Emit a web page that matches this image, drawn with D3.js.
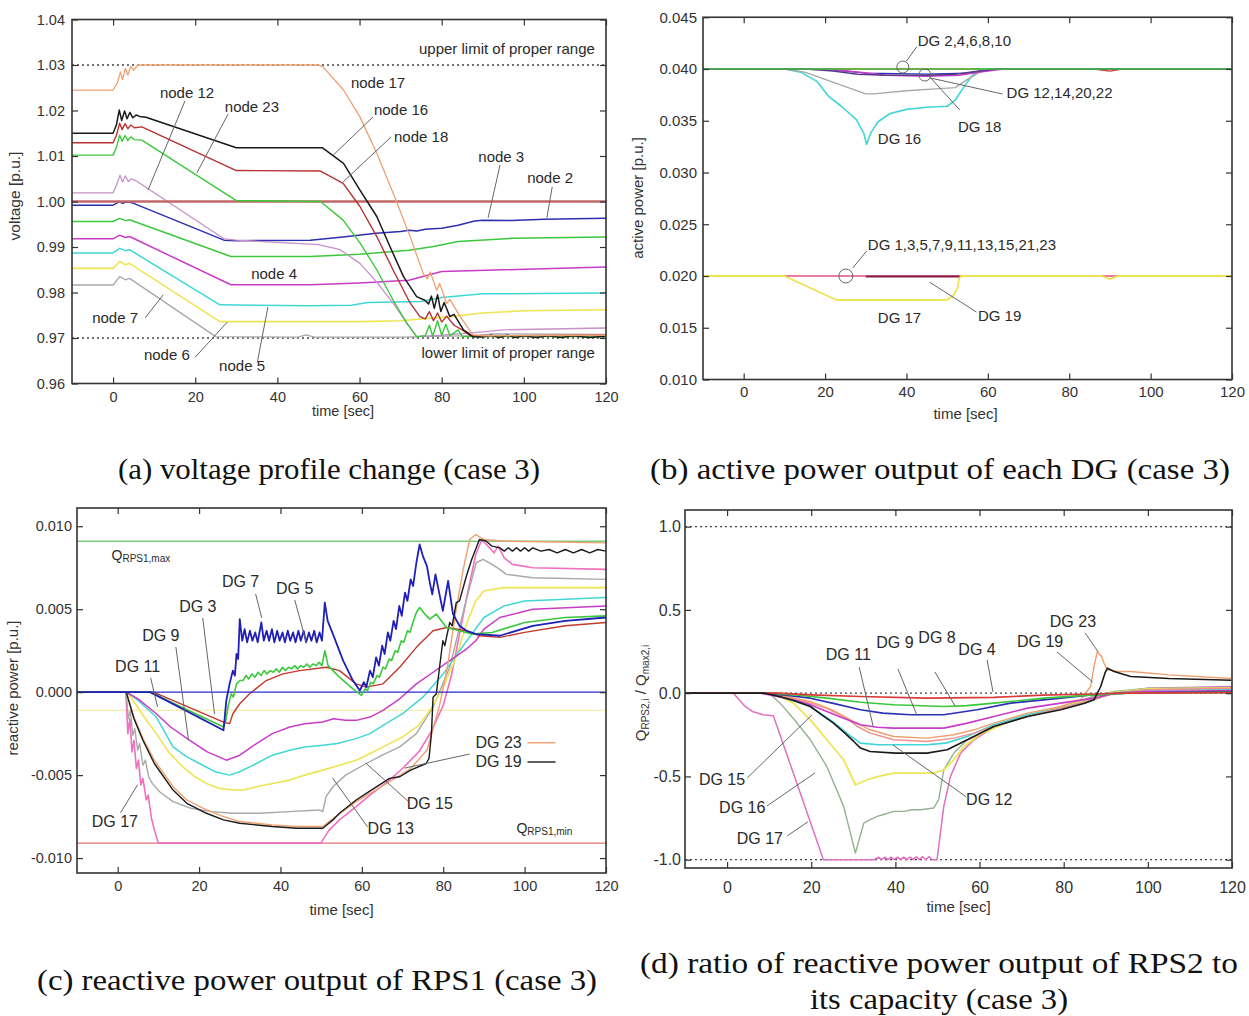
<!DOCTYPE html>
<html><head><meta charset="utf-8">
<script src="https://cdn.jsdelivr.net/npm/d3@7"></script>
<style>
body{margin:0;background:#fff;}
svg{display:block;}
</style></head><body>
<svg id="chart" width="1249" height="1016" font-family="Liberation Sans, Arial, sans-serif"></svg>
<script>
// ================= DATA =================
const timeTicks = [0, 20, 40, 60, 80, 100, 120];
const voltTicks = [0.96, 0.97, 0.98, 0.99, 1.00, 1.01, 1.02, 1.03, 1.04];
const activeTicks = [0.010, 0.015, 0.020, 0.025, 0.030, 0.035, 0.040, 0.045];
const reactTicks = [-0.010, -0.005, 0.000, 0.005, 0.010];
const ratioTicks = [-1.0, -0.5, 0.0, 0.5, 1.0];

// (a) voltage [p.u.] vs time [sec]
const voltLimits = [1.03, 0.97];
const node1 = [[-10,1.0],[120,1.0]];
const node17 = [[-10,1.0245],[0,1.0245],[1,1.026],[1.8,1.0285],[2.3,1.0268],[3,1.0293],[3.6,1.0278],[4.3,1.0297],[5,1.0288],[6,1.03],[50,1.03],[51.1,1.0296],[56.1,1.0245],[60.1,1.0186],[64.2,1.0106],[68.2,1.0018],[72.3,0.9923],[75.5,0.9842],[76.5,0.983],[77.2,0.9845],[78.8,0.9805],[79.5,0.982],[81.2,0.9776],[82,0.9785],[84.5,0.9747],[87.6,0.9707],[90,0.9705],[120,0.9706]];
const node16 = [[-10,1.015],[0,1.015],[0.8,1.0168],[1.5,1.0201],[2.1,1.0178],[2.8,1.0199],[3.4,1.0182],[4.1,1.0196],[4.8,1.0184],[5.6,1.019],[6.5,1.0187],[8,1.0185],[30,1.0118],[51,1.0118],[56.1,1.0084],[60.1,1.0025],[64.2,0.9967],[67.4,0.9901],[70.7,0.9835],[73.9,0.9791],[75.9,0.9783],[76.8,0.9775],[77.5,0.9792],[78.2,0.9765],[79,0.9795],[79.8,0.9758],[80.6,0.9778],[82,0.9747],[83,0.9752],[85.3,0.9718],[87.6,0.9703],[90,0.9702],[92,0.9706],[94,0.9701],[96,0.9706],[98,0.9701],[100,0.9705],[103,0.9701],[106,0.9705],[109,0.9701],[112,0.9705],[116,0.9701],[120,0.9704]];
const node18 = [[-10,1.0129],[0,1.0129],[0.8,1.0145],[1.6,1.0172],[2.2,1.0158],[2.9,1.0171],[3.6,1.016],[4.3,1.0168],[5.2,1.0162],[7,1.0164],[30,1.0068],[50.5,1.0067],[56,1.004],[60.1,0.9989],[64.2,0.9923],[68.2,0.9849],[72.3,0.9777],[74.7,0.9747],[76,0.9742],[77,0.9758],[78,0.9738],[79,0.9755],[80,0.9735],[81.2,0.9748],[83,0.9728],[85,0.9718],[87,0.9705],[120,0.9706]];
const node23 = [[-10,1.0102],[0,1.0102],[0.8,1.0118],[1.6,1.0146],[2.2,1.0132],[2.9,1.0145],[3.6,1.0134],[4.3,1.0142],[5.2,1.0136],[7,1.0135],[30,1.0002],[50.5,1.0],[56,0.9959],[60.1,0.9909],[64.2,0.985],[68.2,0.9783],[71.5,0.9732],[73.9,0.9703],[76,0.9705],[77,0.9728],[77.8,0.9704],[79,0.9738],[80,0.9706],[81,0.973],[82,0.9705],[84,0.9718],[85,0.9703],[120,0.9703]];
const node12 = [[-10,1.0019],[0,1.0019],[0.8,1.0035],[1.7,1.0058],[2.3,1.0043],[3,1.0056],[3.7,1.0044],[4.5,1.005],[5.5,1.0046],[27,0.9918],[30,0.9915],[50,0.9905],[55.3,0.9894],[60.1,0.9864],[64,0.9825],[68.2,0.9776],[71,0.974],[73.9,0.9703],[80,0.9706],[88,0.9712],[95,0.9718],[120,0.9722]];
const node3 = [[-10,0.9992],[0,0.9992],[0.8,0.9996],[1.5,1.0],[2.3,0.9996],[3.2,0.9999],[4.7,0.9997],[27,0.9915],[30,0.9914],[48,0.9915],[56,0.9922],[64,0.993],[70,0.9934],[72,0.9937],[74,0.9935],[76,0.9939],[80,0.9941],[84,0.9948],[88,0.9957],[90,0.9959],[97,0.9958],[105,0.9961],[120,0.9963]];
const nodeG2 = [[-10,0.9956],[0,0.9956],[1.6,0.9963],[3,0.9958],[4,0.996],[28.7,0.9879],[48,0.9879],[60,0.9884],[72,0.9893],[78,0.9901],[84,0.9912],[97,0.9919],[120,0.9922]];
const node4 = [[-10,0.9918],[0,0.9918],[1.6,0.9926],[3,0.9921],[4,0.9923],[28.7,0.9817],[48,0.9817],[60,0.9821],[72,0.9827],[80,0.9846],[95,0.985],[120,0.9856]];
const node5 = [[-10,0.9887],[0,0.9887],[1.6,0.9897],[3,0.9892],[4,0.9894],[26,0.9773],[48,0.9771],[58,0.9772],[62,0.9778],[75,0.978],[80,0.9789],[90,0.9797],[120,0.9799]];
const node6 = [[-10,0.9853],[0,0.9853],[1.6,0.9868],[3,0.9861],[4,0.9864],[26,0.9736],[60,0.9736],[70,0.9738],[82,0.9747],[90,0.9755],[100,0.976],[120,0.9762]];
const node7 = [[-10,0.98165],[0,0.98165],[1.6,0.9835],[3,0.9828],[4,0.9831],[25,0.9703],[45,0.9702],[47,0.9707],[49,0.9702],[70,0.9702],[88,0.9705],[92,0.9709],[120,0.9708]];

// (b) active power [p.u.]
const dgEven = [[-10,0.040],[120,0.040]];
const dg12s = [[-10,0.040],[15,0.040],[22,0.0398],[28,0.0395],[35,0.0394],[45,0.0394],[52,0.0395],[56,0.0397],[62,0.040],[120,0.040]];
const dgMagB = [[-10,0.040],[20,0.040],[28,0.0397],[35,0.0394],[45,0.0393],[53,0.0394],[58,0.0397],[64,0.040],[120,0.040]];
const dgBlueB = [[-10,0.040],[20,0.040],[30,0.0396],[45,0.0395],[55,0.0396],[62,0.040],[120,0.040]];
const dgRedB = [[-10,0.040],[86,0.040],[90,0.0398],[93,0.040],[120,0.040]];
const dg18 = [[-10,0.040],[10,0.040],[15,0.0397],[20,0.039],[25,0.0383],[30,0.0376],[32,0.0376],[40,0.0379],[48,0.0381],[52,0.0382],[55,0.039],[58,0.0397],[62,0.040],[120,0.040]];
const dg16 = [[-10,0.040],[10,0.040],[14,0.0397],[18,0.0388],[21,0.0373],[24,0.0364],[27.7,0.0351],[29.5,0.0338],[30.2,0.0327],[31.2,0.0338],[33,0.0349],[36,0.0357],[40,0.0361],[45,0.0363],[50,0.0364],[52,0.037],[54,0.0382],[56,0.0393],[58,0.0399],[60,0.040],[120,0.040]];
const dgOdd = [[-10,0.020],[120,0.020]];
const dg17b = [[-10,0.020],[10,0.020],[22.8,0.01768],[47.5,0.01768],[50,0.0177],[51.5,0.0181],[52.5,0.0188],[53,0.0198],[53.5,0.020],[88,0.020],[90,0.0197],[92,0.020],[120,0.020]];
const dg19b = [[30,0.01995],[53,0.01995]];

// (c) reactive power of RPS1 [p.u.]
const qRps1Max = [[-10,0.0091],[120,0.0091]];
const qRps1Min = [[-10,-0.0091],[120,-0.0091]];
const cFaint = [[-10,-0.0011],[120,-0.0011]];
const cDg1 = [[-10,0],[120,0]];
const cDg7 = [[-10,0],[8,0],[26,-0.0023],[26.7,-0.0005],[27.5,0.0005],[28.3,0.0013],[28.8,0.001],[29.2,0.0023],[29.6,0.002],[30,0.0044],[30.6,0.0031],[31.2,0.0038],[31.8,0.003],[32.5,0.0037],[33.1,0.0031],[33.8,0.0036],[34.4,0.003],[35.3,0.0042],[35.9,0.0031],[36.6,0.0037],[37.2,0.0031],[37.9,0.0038],[38.5,0.003],[39.2,0.0037],[39.8,0.0031],[40.5,0.0036],[41.1,0.003],[41.8,0.0037],[42.4,0.0031],[43.1,0.0036],[43.7,0.003],[44.4,0.0037],[45,0.0031],[45.7,0.0037],[46.3,0.003],[47,0.0036],[47.6,0.0031],[48.3,0.0037],[48.9,0.003],[49.6,0.0036],[50.2,0.0031],[50.9,0.0054],[51.6,0.0043],[52.9,0.0035],[55.4,0.0019],[57.8,0.0007],[59.5,0.0001],[60.5,0.0006],[61.1,0.0003],[62,0.0013],[62.7,0.0009],[63.5,0.0021],[64.2,0.0016],[65,0.0028],[65.6,0.0023],[66.4,0.0036],[67,0.0031],[67.8,0.0043],[68.4,0.0038],[69.2,0.0052],[69.8,0.0046],[70.6,0.006],[71.2,0.0055],[72,0.0068],[72.6,0.0064],[73.4,0.0078],[74.2,0.0089],[75,0.0082],[76,0.0076],[76.7,0.0066],[77.3,0.0059],[78.1,0.0071],[79.9,0.0049],[81.2,0.0067],[82.4,0.0047],[84,0.004],[85.7,0.0037],[88.1,0.0035],[93.9,0.0034],[102,0.004],[110,0.0043],[120,0.0045]];
const cDg5 = [[-10,0],[8,0],[26,-0.0021],[26.5,-0.0018],[27.1,-0.0009],[27.9,-0.0001],[28.4,-0.0003],[29.2,0.0005],[30,0.0007],[30.8,0.0007],[31.5,0.001],[32.2,0.0008],[33,0.0011],[33.7,0.0009],[34.5,0.0012],[35.2,0.001],[36,0.0013],[36.7,0.0011],[37.5,0.0013],[38.2,0.0012],[39,0.0014],[39.7,0.0012],[40.5,0.0015],[41.2,0.0013],[42,0.0015],[42.7,0.0014],[43.5,0.0016],[44.2,0.0014],[45,0.0016],[45.7,0.0015],[46.5,0.0017],[47.2,0.0015],[48,0.0017],[48.8,0.0016],[49.5,0.0018],[50.2,0.0016],[50.9,0.0025],[51.7,0.0016],[54.5,0.0009],[57.8,0.0002],[59.9,-0.0002],[60.8,0.0002],[61.4,0.0001],[62.2,0.0006],[62.8,0.0005],[63.7,0.001],[64.3,0.0009],[65.2,0.0015],[65.8,0.0014],[66.7,0.002],[67.3,0.0019],[68.2,0.0025],[68.8,0.0024],[69.7,0.0031],[70.3,0.003],[71.2,0.0037],[71.8,0.0036],[72.7,0.0043],[73.4,0.0048],[74.2,0.0051],[75.5,0.0047],[76.7,0.0044],[78.3,0.0047],[80.8,0.0039],[84,0.0037],[87,0.0035],[92,0.0036],[100,0.0042],[110,0.0045],[120,0.0046]];
const cDg3 = [[-10,0],[8.8,0],[26,-0.0018],[27.5,-0.0019],[28.3,-0.0013],[30,-0.0007],[32.4,-0.0001],[36.5,0.0007],[40.6,0.0011],[44.7,0.0013],[51.3,0.0015],[54.5,0.0013],[58.6,0.0005],[61.1,0.0003],[65.2,0.0005],[69.3,0.0015],[73.4,0.0027],[77.5,0.0037],[80.8,0.0039],[85.7,0.0037],[89,0.0034],[93.9,0.0033],[100,0.0036],[110,0.004],[120,0.0042]];
const cDg9 = [[-10,0],[2.1,0],[5,-0.0004],[9.5,-0.0013],[13,-0.0021],[17.7,-0.0029],[22,-0.0036],[26.7,-0.0041],[30,-0.0038],[34.1,-0.0031],[38,-0.0025],[42.3,-0.0021],[46,-0.0019],[50.4,-0.0018],[53,-0.0016],[56,-0.0017],[58.6,-0.0017],[62,-0.0015],[65.2,-0.0011],[69.3,-0.0004],[73.4,0.0005],[77.5,0.0012],[81.6,0.0019],[85.7,0.0026],[88,0.0031],[90,0.0038],[93.9,0.0045],[102,0.005],[120,0.0052]];
const cDg11 = [[-10,0],[2.2,0],[5,-0.0005],[9.5,-0.0015],[13.6,-0.0033],[17,-0.0039],[20.1,-0.0043],[24,-0.0048],[27.5,-0.005],[30,-0.0048],[34.1,-0.0043],[38,-0.0038],[42.3,-0.0035],[46,-0.0033],[50.4,-0.0032],[54,-0.0031],[58.6,-0.0028],[62,-0.0025],[65.2,-0.002],[70,-0.0013],[75,-0.0003],[80,0.0011],[84,0.0025],[87,0.0035],[90,0.0045],[95,0.0052],[100,0.0055],[120,0.0057]];
const cDg13 = [[-10,0],[2.2,0],[3.8,-0.0005],[6.5,-0.0015],[9.5,-0.0025],[12.5,-0.0036],[16,-0.0045],[19,-0.0051],[21.8,-0.0055],[25,-0.0058],[28.3,-0.0059],[31,-0.0059],[34.1,-0.0057],[38,-0.0055],[42.3,-0.0053],[46,-0.005],[50.4,-0.0047],[54.5,-0.0044],[58.6,-0.0041],[62,-0.0037],[65.2,-0.0033],[70,-0.0027],[74,-0.002],[77,-0.001],[80,0.0003],[83,0.002],[86,0.0043],[88,0.0055],[90,0.0061],[95,0.0063],[120,0.0063]];
const cDg15 = [[-10,0],[2.1,0],[2.6,-0.0016],[3.1,-0.0011],[3.7,-0.0026],[4.2,-0.0022],[4.9,-0.0035],[5.4,-0.0031],[6.2,-0.0044],[6.8,-0.0041],[7.6,-0.0051],[8.5,-0.0055],[10.3,-0.006],[13.6,-0.0066],[18,-0.007],[23,-0.0072],[28.3,-0.0073],[35,-0.0073],[42,-0.0072],[49.6,-0.0071],[50.4,-0.0072],[51.2,-0.0063],[52.9,-0.0057],[56,-0.005],[61.1,-0.0043],[65,-0.0038],[69.3,-0.0033],[73.4,-0.0025],[77.5,-0.0009],[81.6,0.0015],[85.7,0.0056],[88.1,0.0078],[89.8,0.008],[92,0.0077],[93.9,0.0074],[95.5,0.0071],[102,0.0069],[120,0.0068]];
const cDg17 = [[-10,0],[2,0],[2.5,-0.0025],[3,-0.0016],[3.5,-0.0036],[4,-0.0029],[4.6,-0.0046],[5.1,-0.0041],[5.7,-0.0056],[6.2,-0.0052],[7,-0.0065],[7.5,-0.0062],[8.3,-0.0076],[9,-0.0083],[10,-0.0091],[50,-0.0091],[50.4,-0.0089],[52,-0.0083],[54.5,-0.0077],[58.6,-0.0069],[62,-0.0062],[66.8,-0.0053],[70,-0.0046],[74,-0.0036],[77,-0.0024],[80,-0.0008],[82,0.001],[84,0.0035],[86,0.006],[88,0.0083],[89.5,0.0092],[91,0.0088],[92.5,0.0084],[93.5,0.0088],[95,0.0081],[97,0.0077],[102,0.0075],[120,0.0074]];
const cDg19 = [[-10,0],[2.1,0],[4,-0.0016],[6.2,-0.0029],[9,-0.0043],[13.6,-0.0059],[17,-0.0067],[21.8,-0.0073],[26,-0.0077],[30,-0.0079],[38,-0.0081],[44,-0.0082],[50.4,-0.0082],[52.9,-0.0077],[54.5,-0.0073],[58.6,-0.0065],[61.1,-0.0061],[66.8,-0.0052],[69.3,-0.0051],[72,-0.0047],[75.8,-0.0043],[76.5,-0.004],[77.1,-0.0025],[77.5,-0.0003],[78.3,-0.0001],[79.1,0.0015],[79.9,0.0031],[80.4,0.0028],[80.8,0.0033],[81.6,0.0042],[82.2,0.004],[83.2,0.0054],[84,0.0055],[85.7,0.007],[87,0.008],[88.9,0.0092],[90.6,0.0091],[92,0.0088],[93.9,0.0087],[95,0.0085],[96,0.0087],[97,0.0085],[98,0.0087],[99,0.0085],[100,0.0087],[101,0.0085],[102,0.0087],[104,0.0085],[106,0.0086],[108,0.0084],[110,0.0086],[112,0.0084],[114,0.0086],[116,0.0084],[118,0.0086],[120,0.0085]];
const cDg23 = [[-10,0],[2.1,0],[4,-0.0015],[6.2,-0.0028],[9,-0.0041],[13.6,-0.0057],[17,-0.0065],[21.8,-0.0071],[26,-0.0075],[30,-0.0078],[38,-0.008],[44,-0.0081],[50.4,-0.0081],[53,-0.0076],[58.6,-0.0066],[66.8,-0.0054],[72,-0.0046],[76,-0.0035],[79.1,-0.0008],[81,0.0015],[83.2,0.005],[85,0.0075],[86.5,0.0092],[88,0.0095],[90,0.0092],[95,0.0091],[120,0.009]];

// (d) Q_RPS2,i / Q_max2,i
const ratioLimits = [1.0, 0.0, -1.0];
const dDg4 = [[-10,0],[12,0],[20,-0.01],[31.7,-0.02],[47.5,-0.03],[63.4,-0.025],[75,-0.012],[87,-0.005],[95,0],[120,0.003]];
const dDg8 = [[-10,0],[10,0],[16,-0.01],[23.7,-0.03],[31.7,-0.055],[39.6,-0.07],[51.5,-0.08],[57,-0.075],[63.4,-0.06],[75.3,-0.03],[87,-0.01],[95,0],[120,0.005]];
const dDg9 = [[-10,0],[8,0],[13,-0.01],[19.8,-0.03],[25,-0.06],[31.7,-0.1],[37,-0.12],[43.6,-0.13],[51.5,-0.13],[59.4,-0.1],[67.4,-0.06],[79.3,-0.03],[87,-0.01],[95,0],[120,0.01]];
const dDg11 = [[-10,0],[8,0],[12,-0.02],[15.8,-0.04],[19.8,-0.07],[23.7,-0.11],[27.7,-0.15],[31.7,-0.19],[35.7,-0.205],[39.6,-0.21],[51.5,-0.21],[57.1,-0.18],[63.4,-0.14],[71.4,-0.09],[79.3,-0.06],[87.2,-0.03],[92,0],[100,0.01],[120,0.015]];
const dDg23 = [[-10,0],[9,0],[14,-0.02],[19.8,-0.05],[25,-0.1],[30,-0.17],[34,-0.22],[39.6,-0.26],[47.5,-0.27],[53.9,-0.25],[58.7,-0.22],[63.4,-0.18],[71.4,-0.12],[79.3,-0.08],[84,-0.04],[86.4,0.04],[87.2,0.16],[88,0.25],[89,0.22],[89.6,0.18],[90.4,0.14],[93,0.13],[95.9,0.13],[105,0.11],[119.8,0.088]];
const dDg12 = [[-10,0],[9,0],[14,-0.02],[19.8,-0.06],[23.5,-0.09],[27.7,-0.14],[31,-0.2],[34,-0.24],[39.6,-0.28],[47.5,-0.29],[53.9,-0.27],[58.7,-0.24],[63.4,-0.2],[71.4,-0.14],[79.3,-0.09],[87,-0.04],[92,0],[100,0.02],[120,0.03]];
const dDg13 = [[-10,0],[10,0],[14,-0.03],[19.8,-0.08],[25,-0.17],[29,-0.25],[31.7,-0.3],[36,-0.31],[47.5,-0.31],[52,-0.3],[57,-0.26],[63.4,-0.19],[71.4,-0.13],[79.3,-0.09],[87,-0.04],[92,0],[100,0.02],[120,0.025]];
const dDg19 = [[-10,0],[9,0],[12.6,-0.022],[16,-0.045],[19.8,-0.08],[22.5,-0.13],[25.3,-0.18],[28,-0.24],[30.1,-0.29],[31.7,-0.33],[34,-0.35],[40,-0.36],[47.5,-0.36],[52.3,-0.34],[57.1,-0.28],[63.4,-0.2],[71.4,-0.14],[79.3,-0.1],[85,-0.06],[87.2,-0.04],[88.8,0.04],[89.8,0.12],[90.4,0.15],[92,0.13],[95.9,0.1],[105,0.088],[119.8,0.078]];
const dDg15 = [[-10,0],[11,0],[15.8,-0.06],[19.8,-0.16],[23.7,-0.28],[27.7,-0.4],[30.5,-0.55],[33.3,-0.52],[36,-0.5],[39.6,-0.48],[45,-0.48],[49.1,-0.48],[51.5,-0.46],[53.9,-0.4],[56.3,-0.32],[60,-0.25],[66,-0.18],[73,-0.12],[80,-0.08],[87,-0.03],[92,0.005],[100,0.025],[120,0.03]];
const dDg16 = [[-10,0],[10,0],[12.6,-0.06],[16,-0.16],[19.8,-0.28],[23.7,-0.44],[27.7,-0.68],[30.5,-0.96],[32.5,-0.78],[34,-0.76],[35.7,-0.74],[37,-0.73],[39.6,-0.71],[42,-0.71],[44,-0.7],[46,-0.7],[49.1,-0.69],[50.3,-0.64],[51.5,-0.46],[53.9,-0.36],[57.1,-0.28],[63,-0.21],[70,-0.14],[80,-0.08],[87,-0.02],[92,0.01],[100,0.03],[120,0.035]];
const dDg17 = [[-10,0],[1.5,0],[4.3,-0.08],[6,-0.11],[8.6,-0.13],[11,-0.135],[22.9,-1.0],[35,-1.0],[36,-0.985],[36.7,-1.0],[37.5,-0.985],[38.2,-1.0],[39,-0.985],[39.7,-1.0],[40.5,-0.985],[41.2,-1.0],[42,-0.985],[42.7,-1.0],[43.5,-0.984],[44.2,-1.0],[45,-0.983],[45.7,-1.0],[46.5,-0.982],[47.2,-1.0],[48,-0.981],[48.7,-1.0],[49.9,-1.0],[50.5,-0.88],[51.5,-0.68],[53.1,-0.5],[55.5,-0.36],[58.7,-0.28],[63,-0.21],[70,-0.14],[80,-0.08],[87,-0.03],[92,0],[100,0.03],[120,0.04]];

// ================= DRAWING =================
const svg = d3.select("#chart");
const C = {red:"#d83a3a", dred:"#b83232", green:"#3cc83c", blue:"#2b2fb0", mag:"#c83cc8", cyan:"#40d6d6",
  yellow:"#efe452", black:"#1a1a1a", orange:"#f0a070", gray:"#a8a8a8", pink:"#f070c0", salmon:"#f09090", gg:"#94b294"};
const SANS = "Liberation Sans, Arial, sans-serif";

function panel(cfg){
  const g = svg.append("g");
  const x = d3.scaleLinear().domain([-10,120]).range([cfg.left,cfg.right]);
  const y = d3.scaleLinear().domain(cfg.yDomain).range([cfg.bottom,cfg.top]);
  const id = "clip"+cfg.id;
  svg.append("clipPath").attr("id",id).append("rect")
    .attr("x",cfg.left).attr("y",cfg.top).attr("width",cfg.right-cfg.left).attr("height",cfg.bottom-cfg.top);
  const plot = g.append("g").attr("clip-path",`url(#${id})`);
  const line = d3.line().x(d=>x(d[0])).y(d=>y(d[1]));
  (cfg.refs||[]).forEach(v=>{
    plot.append("line").attr("x1",x(-10)).attr("x2",x(120)).attr("y1",y(v)).attr("y2",y(v))
      .attr("stroke","#444").attr("stroke-width",1.3).attr("stroke-dasharray","2,3");
  });
  cfg.series.forEach(s=>{
    plot.append("path").datum(s.data).attr("d",line).attr("fill","none")
      .attr("stroke",s.color).attr("stroke-width",s.w||1.3).attr("stroke-linejoin","round").attr("opacity",s.o||1);
  });
  const fs = cfg.fs;
  function style(a){ a.attr("font-family",SANS).attr("font-size",fs);
    a.select(".domain").remove(); a.selectAll("line").attr("stroke","#333").attr("stroke-width",1.2);
    a.selectAll("text").attr("fill","#333"); }
  style(g.append("g").attr("transform",`translate(0,${cfg.bottom})`)
    .call(d3.axisBottom(x).tickValues(timeTicks).tickSize(-6).tickPadding(cfg.xPad).tickFormat(d=>String(d))));
  style(g.append("g").attr("transform",`translate(0,${cfg.top})`)
    .call(d3.axisTop(x).tickValues(timeTicks).tickSize(-6).tickFormat("")));
  style(g.append("g").attr("transform",`translate(${cfg.left},0)`)
    .call(d3.axisLeft(y).tickValues(cfg.yTicks).tickSize(-6).tickPadding(cfg.yPad).tickFormat(cfg.yFmt)));
  style(g.append("g").attr("transform",`translate(${cfg.right},0)`)
    .call(d3.axisRight(y).tickValues(cfg.yTicks).tickSize(-6).tickFormat("")));
  g.append("rect").attr("x",cfg.left).attr("y",cfg.top).attr("width",cfg.right-cfg.left).attr("height",cfg.bottom-cfg.top)
    .attr("fill","none").attr("stroke","#333").attr("stroke-width",1.6);
  g.append("text").attr("x",(cfg.left+cfg.right)/2+cfg.xlOff).attr("y",cfg.xlY).attr("text-anchor","middle")
    .attr("font-size",cfg.tfs).attr("fill","#333").text("time [sec]");
  const yl = g.append("text").attr("transform",`translate(${cfg.ylX},${cfg.ylY}) rotate(-90)`)
    .attr("text-anchor","middle").attr("font-size",cfg.ylfs||cfg.tfs).attr("fill","#333");
  cfg.ylab(yl);
  return {
    text(t,v,str,anchor,size){ return g.append("text").attr("x",x(t)).attr("y",y(v)).attr("text-anchor",anchor||"middle")
      .attr("font-size",size||cfg.afs).attr("fill","#2a2a2a").text(str); },
    lead(t1,v1,t2,v2){ g.append("line").attr("x1",x(t1)).attr("y1",y(v1)).attr("x2",x(t2)).attr("y2",y(v2))
      .attr("stroke","#666").attr("stroke-width",1); },
    circ(t,v,r){ g.append("circle").attr("cx",x(t)).attr("cy",y(v)).attr("r",r).attr("fill","none").attr("stroke","#666").attr("stroke-width",1); },
    x, y, g
  };
}

// ---- (a)
const A = panel({id:"a", left:72, right:606, top:19.5, bottom:383.5, yDomain:[0.96,1.04], yTicks:voltTicks,
  yFmt:d=>d.toFixed(2), fs:14.5, xPad:8, yPad:7, tfs:14.5, ylfs:15.5, afs:15, xlOff:4, xlY:416, ylX:20, ylY:196,
  ylab:t=>t.text("voltage [p.u.]"), refs:voltLimits,
  series:[
    {data:node7,color:C.gray},{data:node6,color:C.yellow,w:1.6},{data:node5,color:C.cyan,w:1.5},{data:node4,color:C.mag,w:1.5},
    {data:nodeG2,color:C.green,w:1.5},{data:node3,color:C.blue,w:1.5},{data:node12,color:"#c890c8"},
    {data:node1,color:"#c06868",w:2.6},{data:node23,color:C.green,w:1.4},{data:node18,color:C.dred,w:1.4},
    {data:node16,color:C.black,w:1.5},{data:node17,color:C.orange,w:1.3}
  ]});
A.text(117.3,1.0324,"upper limit of proper range","end");
A.text(117.3,0.9656,"lower limit of proper range","end");
A.text(18.0,1.0228,"node 12"); A.lead(17.5,1.0221,8.5,1.0025);
A.text(33.8,1.0197,"node 23"); A.lead(28.0,1.0192,20.4,1.0063);
A.text(64.5,1.0250,"node 17");
A.text(70.1,1.0190,"node 16"); A.lead(63.3,1.0186,53.6,1.0102);
A.text(75.0,1.0131,"node 18"); A.lead(67.7,1.0142,56.0,1.0043);
A.text(94.5,1.0087,"node 3"); A.lead(94.2,1.0080,91.3,0.9964);
A.text(106.4,1.0041,"node 2"); A.lead(106.9,1.0032,105.6,0.9964);
A.text(39.2,0.9830,"node 4");
A.text(0.5,0.9733,"node 7"); A.lead(7.8,0.9744,12.2,0.9795);
A.text(13.1,0.9652,"node 6"); A.lead(20.0,0.9658,27.8,0.9735);
A.text(31.4,0.9628,"node 5"); A.lead(35.1,0.9646,37.7,0.9768);

// ---- (b)
const B = panel({id:"b", left:703, right:1232, top:17.25, bottom:379.5, yDomain:[0.010,0.045], yTicks:activeTicks,
  yFmt:d=>d.toFixed(3), fs:15, xPad:7, yPad:6, tfs:15, afs:15, xlOff:-2, xlY:419, ylX:643, ylY:198,
  ylab:t=>t.text("active power [p.u.]"),
  series:[
    {data:dgOdd,color:"#e0508a",w:1.4},{data:dg17b,color:C.yellow,w:1.8},{data:dg19b,color:"#8a2040",w:2.2},
    {data:dgRedB,color:C.red},{data:dg16,color:C.cyan,w:1.6},{data:dg18,color:C.gray},
    {data:dgBlueB,color:C.blue},{data:dgMagB,color:C.mag,w:1.5},{data:dg12s,color:"#5a3a8a",w:1.5},{data:dgEven,color:C.green}
  ]});
B.text(42.75,0.04222,"DG 2,4,6,8,10","start"); B.lead(42.5,0.04213,40.0,0.04077); B.circ(39.1,0.04019,6);
B.circ(44.5,0.03942,6); B.lead(45.9,0.03913,63.6,0.03758); B.text(64.6,0.0372,"DG 12,14,20,22","start");
B.text(38.3,0.03275,"DG 16");
B.text(58.0,0.03391,"DG 18"); B.lead(53.1,0.03604,45.7,0.03925);
B.text(30.5,0.02251,"DG 1,3,5,7,9,11,13,15,21,23","start"); B.lead(30.2,0.02241,26.8,0.02077); B.circ(25.1,0.0200,7);
B.text(38.3,0.01546,"DG 17");
B.text(62.9,0.01565,"DG 19"); B.lead(57.2,0.01652,45.7,0.0194);

// ---- (c)
const Cp = panel({id:"c", left:77, right:606, top:508, bottom:873, yDomain:[-0.0109,0.0111], yTicks:reactTicks,
  yFmt:d=>d.toFixed(3), fs:14.5, xPad:8, yPad:5, tfs:15, afs:16, xlOff:0, xlY:915, ylX:18, ylY:688,
  ylab:t=>t.text("reactive power [p.u.]"),
  series:[
    {data:cFaint,color:"#f4eeb0"},{data:qRps1Max,color:"#7ccc7c",w:1.4},{data:qRps1Min,color:"#e07474",w:1.4},
    {data:cDg17,color:C.pink,w:1.6},{data:cDg15,color:C.gray,w:1.4},{data:cDg13,color:C.yellow,w:1.6},
    {data:cDg11,color:C.cyan,w:1.5},{data:cDg9,color:C.mag,w:1.5},{data:cDg23,color:C.orange,w:1.4},
    {data:cDg19,color:C.black,w:1.4},{data:cDg3,color:"#c03a2a",w:1.4},{data:cDg1,color:"#2a2ad0",w:1.4},
    {data:cDg5,color:C.green,w:1.6},{data:cDg7,color:"#2020b8",w:1.8}
  ]});
function qLabel(t,v,sub){
  const tx = Cp.g.append("text").attr("x",Cp.x(t)).attr("y",Cp.y(v)).attr("fill","#2a2a2a");
  tx.append("tspan").attr("font-size",14).text("Q");
  tx.append("tspan").attr("font-size",10).attr("dy",2).text(sub);
}
qLabel(-1.5,0.00797,"RPS1,max");
qLabel(98.0,-0.00848,"RPS1,min");
Cp.text(30.2,0.00634,"DG 7"); Cp.lead(33.9,0.00592,35.4,0.00447);
Cp.text(43.5,0.00592,"DG 5"); Cp.lead(43.5,0.00556,46.4,0.00296);
Cp.text(19.7,0.00483,"DG 3"); Cp.lead(20.9,0.00447,23.8,-0.00131);
Cp.text(10.6,0.00309,"DG 9"); Cp.lead(14.3,0.00272,17.4,-0.00288);
Cp.text(4.9,0.00122,"DG 11"); Cp.lead(8.1,0.00086,9.8,-0.00089);
Cp.text(-0.7,-0.00812,"DG 17"); Cp.lead(0.7,-0.00727,4.9,-0.00558);
Cp.text(76.7,-0.00704,"DG 15"); Cp.lead(71.3,-0.00656,60.9,-0.00426);
Cp.text(67.1,-0.00855,"DG 13"); Cp.lead(61.4,-0.00812,52.8,-0.00517);
Cp.text(99.3,-0.00336,"DG 23","end");
Cp.text(99.3,-0.00451,"DG 19","end");
Cp.g.append("line").attr("x1",Cp.x(100.7)).attr("x2",Cp.x(107.6)).attr("y1",Cp.y(-0.00305)).attr("y2",Cp.y(-0.00305)).attr("stroke",C.orange).attr("stroke-width",1.4);
Cp.g.append("line").attr("x1",Cp.x(100.7)).attr("x2",Cp.x(107.6)).attr("y1",Cp.y(-0.00421)).attr("y2",Cp.y(-0.00421)).attr("stroke",C.black).attr("stroke-width",1.4);
Cp.lead(86.5,-0.00373,70.5,-0.00458);

// ---- (d)
const D = panel({id:"d", left:685, right:1232, top:510, bottom:868, yDomain:[-1.05,1.1], yTicks:ratioTicks,
  yFmt:d=>d.toFixed(1), fs:16, xPad:14, yPad:4, tfs:15, afs:16, xlOff:0, xlY:912, ylX:646, ylY:693,
  ylab:t=>{ t.append("tspan").text("Q"); t.append("tspan").attr("font-size",10).attr("dy",3).text("RPS2,i");
            t.append("tspan").attr("dy",-3).text(" / Q"); t.append("tspan").attr("font-size",10).attr("dy",3).text("max2,i"); },
  refs:ratioLimits,
  series:[
    {data:dDg17,color:"#e070c0",w:1.5},{data:dDg16,color:C.gg,w:1.4},{data:dDg15,color:C.yellow,w:1.8},
    {data:dDg13,color:C.cyan,w:1.6},{data:dDg12,color:C.salmon,w:1.5},{data:dDg23,color:C.orange,w:1.4},
    {data:dDg11,color:C.mag,w:1.6},{data:dDg9,color:C.blue,w:1.6},{data:dDg8,color:C.green,w:1.6},
    {data:dDg4,color:C.red,w:1.6},{data:dDg19,color:C.black,w:1.6}
  ]});
D.text(28.8,0.199,"DG 11"); D.lead(31.4,0.157,34.7,-0.197);
D.text(39.9,0.271,"DG 9"); D.lead(40.6,0.145,45.2,-0.137);
D.text(49.9,0.301,"DG 8"); D.lead(49.4,0.127,54.2,-0.077);
D.text(59.4,0.229,"DG 4"); D.lead(61.8,0.200,63.2,0.007);
D.text(82.2,0.398,"DG 23"); D.lead(85.1,0.362,88.2,0.247);
D.text(74.4,0.278,"DG 19"); D.lead(78.4,0.248,86.9,0.067);
D.text(-1.2,-0.55,"DG 15"); D.lead(4.8,-0.509,20.2,-0.13);
D.text(3.6,-0.719,"DG 16"); D.lead(9.5,-0.677,20.9,-0.479);
D.text(7.8,-0.905,"DG 17"); D.lead(14.3,-0.857,19.2,-0.773);
D.text(62.3,-0.67,"DG 12"); D.lead(56.8,-0.622,39.4,-0.311);

// ---- captions
const cap = [
  {x:329,y:479,w:422,t:"(a) voltage profile change (case 3)"},
  {x:940,y:479,w:580,t:"(b) active power output of each DG (case 3)"},
  {x:317,y:990,w:560,t:"(c) reactive power output of RPS1 (case 3)"},
  {x:939,y:973,w:598,t:"(d) ratio of reactive power output of RPS2 to"},
  {x:939,y:1009,w:258,t:"its capacity (case 3)"}
];
cap.forEach(c=>svg.append("text").attr("x",c.x).attr("y",c.y).attr("text-anchor","middle")
  .attr("textLength",c.w).attr("lengthAdjust","spacingAndGlyphs")
  .attr("font-family","Liberation Serif, Times New Roman, serif").attr("font-size",29).attr("fill","#111").text(c.t));
</script>
</body></html>
